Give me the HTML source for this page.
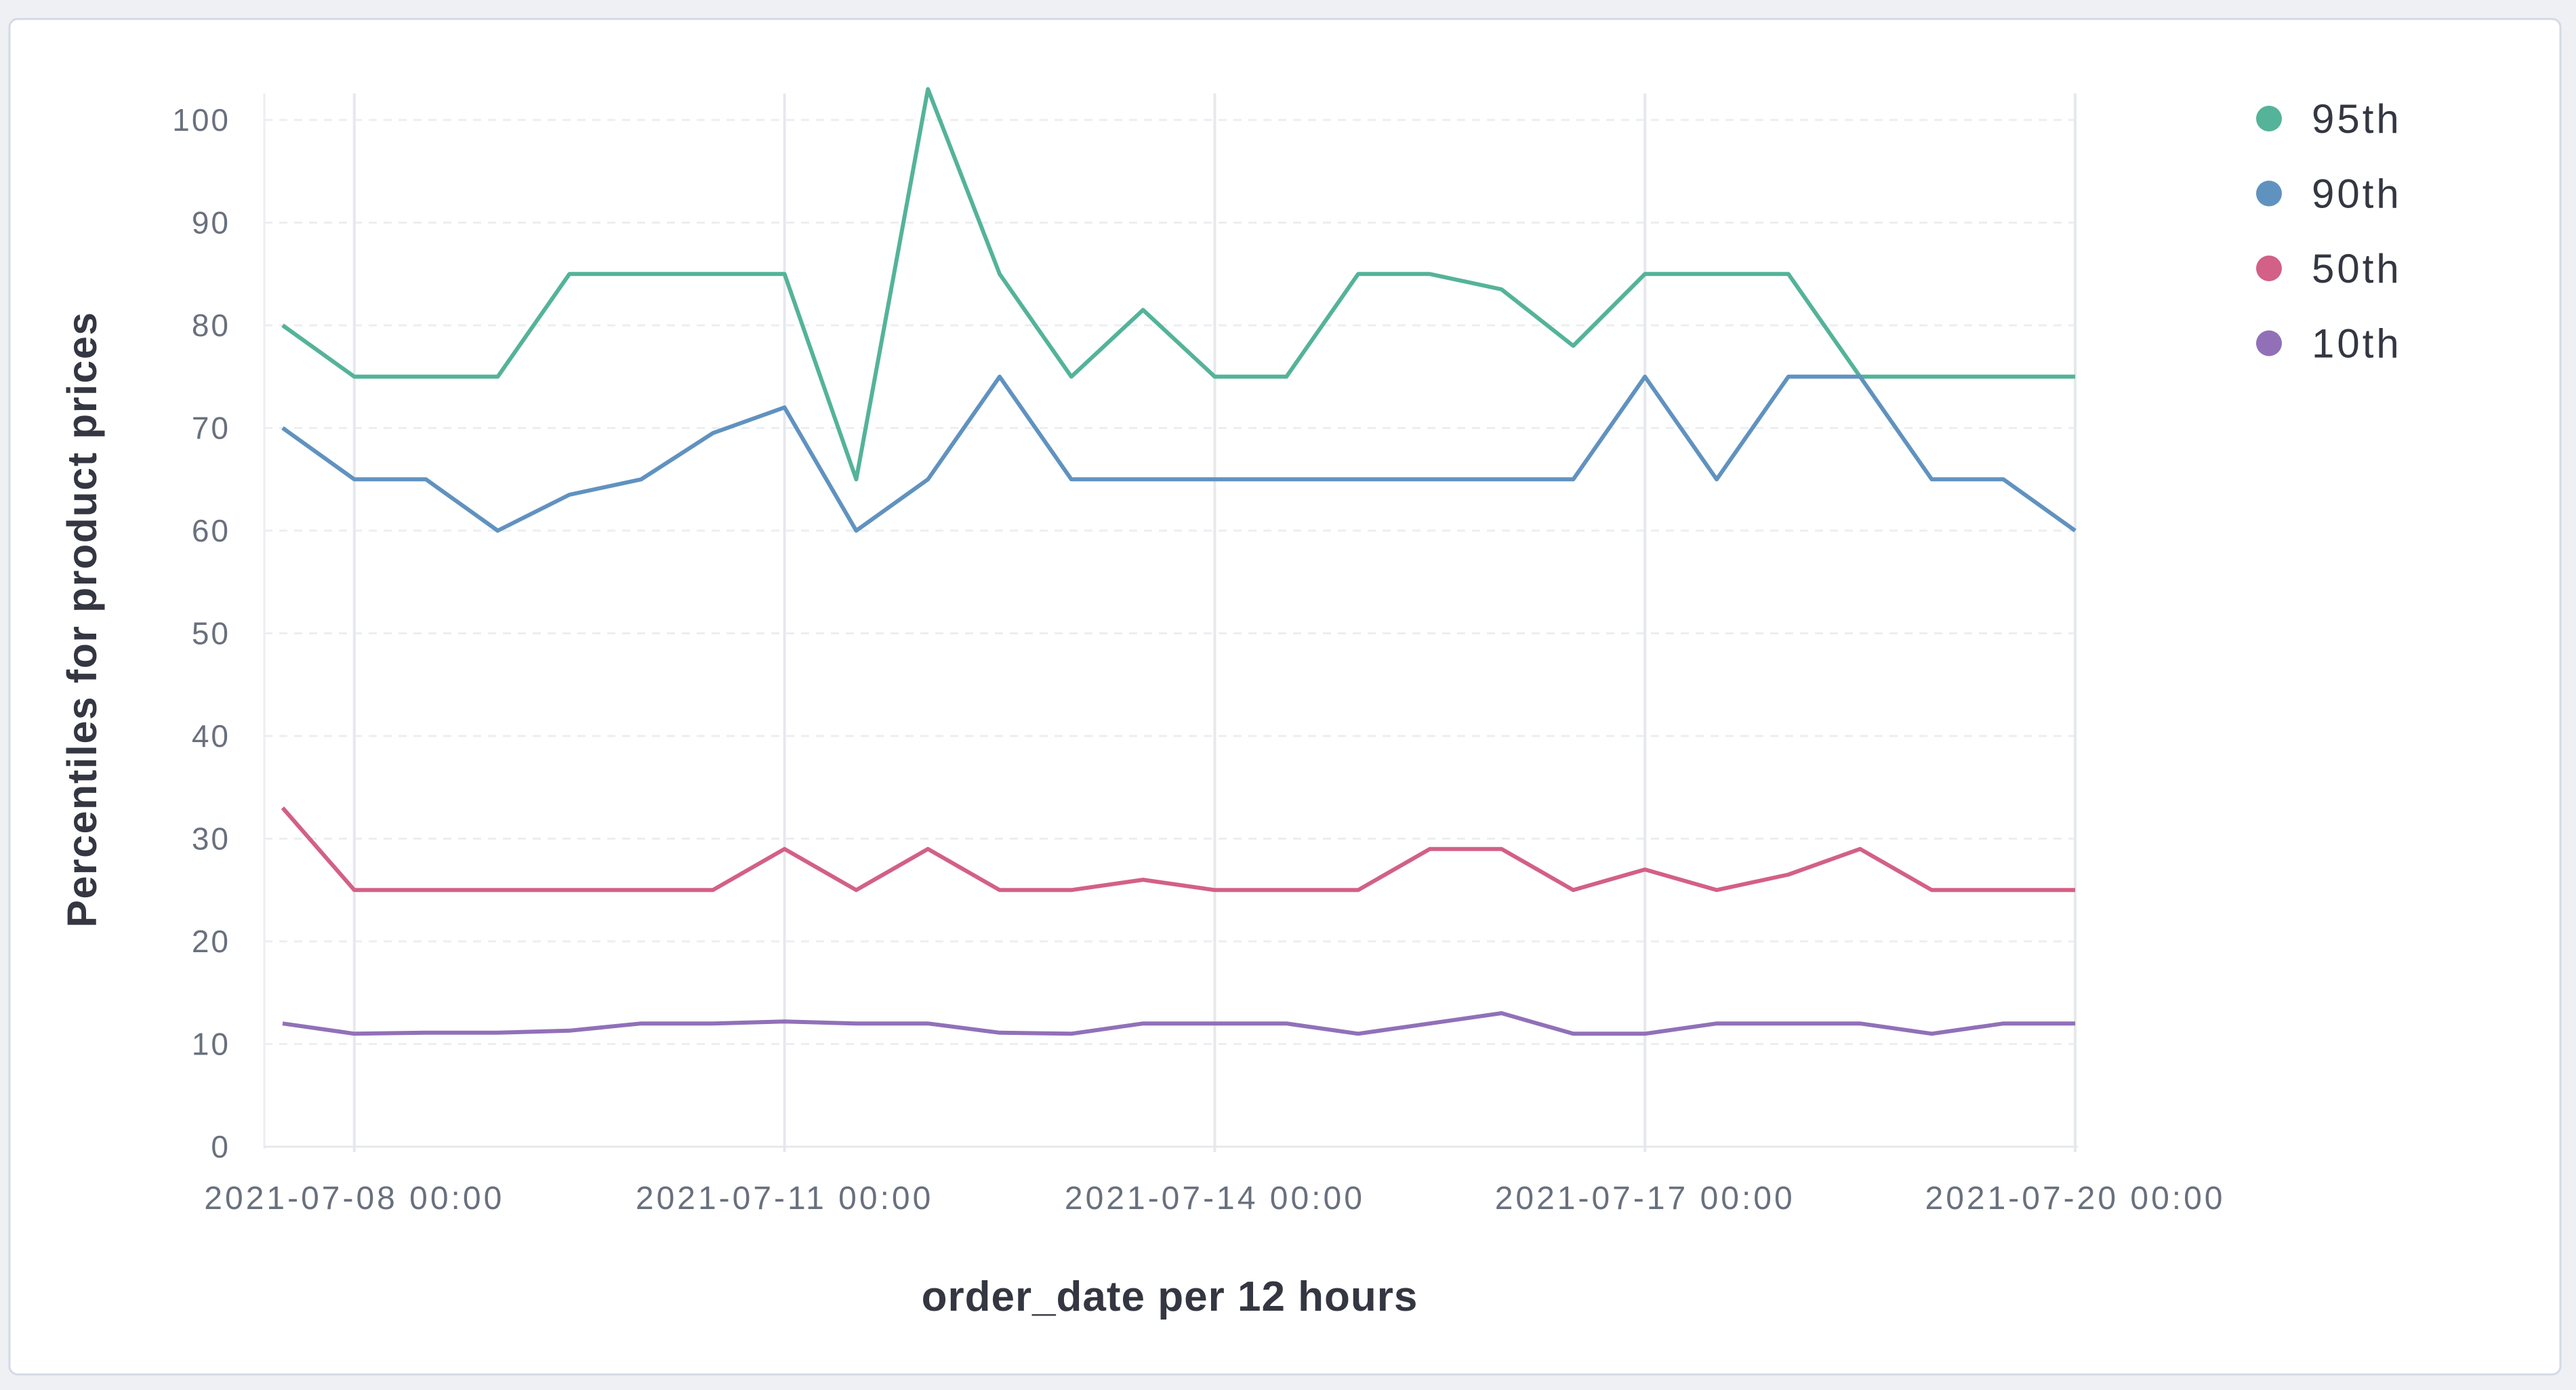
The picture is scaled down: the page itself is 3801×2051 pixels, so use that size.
<!DOCTYPE html>
<html><head><meta charset="utf-8">
<style>
html,body{margin:0;padding:0;background:#eef0f4;}
svg{display:block;font-family:"Liberation Sans",sans-serif;}
</style></head>
<body>
<svg id="chart" width="3801" height="2051" viewBox="0 0 3801 2051">
<rect x="14" y="28" width="3764" height="2000" rx="12" fill="#ffffff" stroke="#d3dae6" stroke-width="3"/>
<g id="grid"></g>
<g id="axes"></g>
<g id="series"></g>
<g id="legend"></g>
<text x="1726" y="1934" text-anchor="middle" font-size="62" font-weight="bold" fill="#343741" letter-spacing="1">order_date per 12 hours</text>
<text transform="translate(142,914) rotate(-90)" text-anchor="middle" font-size="61" font-weight="bold" fill="#343741" letter-spacing="1.5">Percentiles for product prices</text>
</svg>
<script>
const seriesNames = ["95th","90th","50th","10th"];
const seriesColors = ["#54B399","#6092C0","#D36086","#9170B8"];
const p95 = [80,75,75,75,85,85,85,85,65,103,85,75,81.5,75,75,85,85,83.5,78,85,85,85,75,75,75,75];
const p90 = [70,65,65,60,63.5,65,69.5,72,60,65,75,65,65,65,65,65,65,65,65,75,65,75,75,65,65,60];
const p50 = [33,25,25,25,25,25,25,29,25,29,25,25,26,25,25,25,29,29,25,27,25,26.5,29,25,25,25];
const p10 = [12,11,11.1,11.1,11.3,12,12,12.2,12,12,11.1,11,12,12,12,11,12,13,11,11,12,12,12,11,12,12];
const yTicks = [0,10,20,30,40,50,60,70,80,90,100];
const xTickLabels = ["2021-07-08 00:00","2021-07-11 00:00","2021-07-14 00:00","2021-07-17 00:00","2021-07-20 00:00"];
const xTickIndex = [1,7,13,19,25];

const NS="http://www.w3.org/2000/svg";
const X0=417, XSTEP=105.8, Y0=1692, YSCALE=15.15;
const xPos=i=>X0+i*XSTEP;
const yPos=v=>Y0-v*YSCALE;
function mk(tag,attrs,parent){const e=document.createElementNS(NS,tag);for(const k in attrs)e.setAttribute(k,attrs[k]);parent.appendChild(e);return e;}
const grid=document.getElementById('grid'),axes=document.getElementById('axes'),ser=document.getElementById('series'),leg=document.getElementById('legend');
const lastX=xPos(p95.length-1);
yTicks.forEach(v=>{
  if(v>0){const l=mk('line',{x1:390,x2:lastX+4,y1:yPos(v),y2:yPos(v),stroke:'#eceef2','stroke-width':3,'stroke-dasharray':'12 10'},grid);
  
  }
  const t=mk('text',{x:340,y:yPos(v)+16,'text-anchor':'end','font-size':46,'letter-spacing':3,fill:'#69707d'},axes);
  t.textContent=v;
  
  
});
mk('line',{x1:390,x2:390,y1:138,y2:1695,stroke:'#eceef2','stroke-width':3},grid);
xTickIndex.forEach((idx,k)=>{
  const x=xPos(idx);
  const l=mk('line',{x1:x,x2:x,y1:138,y2:1700,stroke:'#e6e8ec','stroke-width':4},grid);
  
  
  const t=mk('text',{x:x,y:1784,'text-anchor':'middle','font-size':48,'letter-spacing':4,fill:'#69707d'},axes);
  t.textContent=xTickLabels[k];
  
  
});
const baseline=mk('line',{x1:390,x2:lastX+4,y1:Y0,y2:Y0,stroke:'#e6e8ec','stroke-width':3},axes);


[p95,p90,p50,p10].forEach((arr,s)=>{
  const pts=arr.map((v,i)=>xPos(i).toFixed(1)+','+yPos(v).toFixed(1)).join(' ');
  const pl=mk('polyline',{points:pts,fill:'none',stroke:seriesColors[s],'stroke-width':6,'stroke-linejoin':'round'},ser);
  
  
});
seriesNames.forEach((n,s)=>{
  const y=175+s*110.5;
  const g=mk('g',{},leg);
  
  
  mk('circle',{cx:3348,cy:y,r:19,fill:seriesColors[s]},g);
  const t=mk('text',{x:3411,y:y+21,'font-size':60,'letter-spacing':4,fill:'#343741'},g);
  t.textContent=n;
});
</script>
</body></html>
